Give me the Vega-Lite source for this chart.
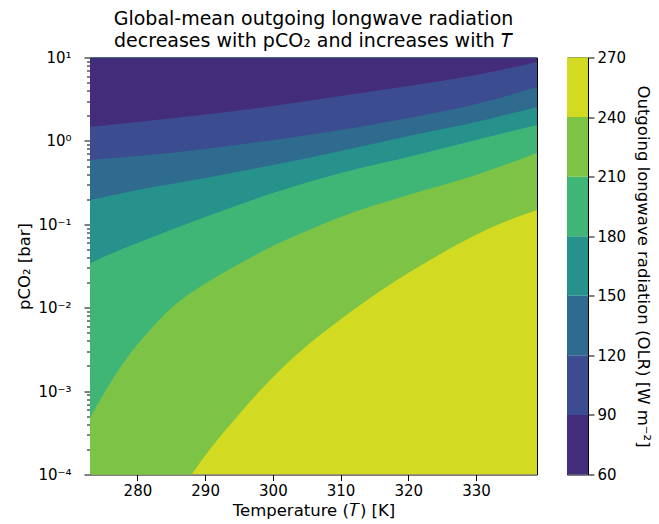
{
  "$schema": "https://vega.github.io/schema/vega-lite/v6.json",
  "background": "white",
  "padding": {"left": 16, "top": 8.5, "right": 5, "bottom": 5},
  "config": {
    "font": "DejaVu Sans",
    "view": {"stroke": "black", "strokeWidth": 1},
    "axis": {
      "labelFont": "DejaVu Sans", "titleFont": "DejaVu Sans",
      "labelFontSize": 15, "titleFontSize": 16.5, "titleFontWeight": "normal",
      "labelColor": "black", "titleColor": "black",
      "ticks": true,
      "domain": false, "grid": false, "labelFlush": false, "labelOverlap": false
    }
  },
  "datasets": {
    "contours": [
      {"band": "240–270", "T": 273, "p": 0.0001},
      {"band": "240–270", "T": 339, "p": 0.0001},
      {"band": "210–240", "T": 273, "p": 0.000001},
      {"band": "210–240", "T": 283, "p": 0.000025},
      {"band": "210–240", "T": 286, "p": 0.000057},
      {"band": "210–240", "T": 288, "p": 0.0001},
      {"band": "210–240", "T": 290.73, "p": 0.000202},
      {"band": "210–240", "T": 294.67, "p": 0.00049},
      {"band": "210–240", "T": 299.59, "p": 0.00136},
      {"band": "210–240", "T": 304.46, "p": 0.0032},
      {"band": "210–240", "T": 309.48, "p": 0.00675},
      {"band": "210–240", "T": 314.36, "p": 0.01306},
      {"band": "210–240", "T": 318.79, "p": 0.0227},
      {"band": "210–240", "T": 323.22, "p": 0.0373},
      {"band": "210–240", "T": 327.65, "p": 0.0597},
      {"band": "210–240", "T": 332.08, "p": 0.0904},
      {"band": "210–240", "T": 339, "p": 0.148},
      {"band": "180–210", "T": 273, "p": 0.000476},
      {"band": "180–210", "T": 276, "p": 0.00125},
      {"band": "180–210", "T": 279, "p": 0.00286},
      {"band": "180–210", "T": 282, "p": 0.00556},
      {"band": "180–210", "T": 285, "p": 0.00991},
      {"band": "180–210", "T": 288, "p": 0.0152},
      {"band": "180–210", "T": 291, "p": 0.0218},
      {"band": "180–210", "T": 295, "p": 0.0334},
      {"band": "180–210", "T": 300, "p": 0.055},
      {"band": "180–210", "T": 305, "p": 0.0832},
      {"band": "180–210", "T": 310, "p": 0.1225},
      {"band": "180–210", "T": 320, "p": 0.2245},
      {"band": "180–210", "T": 330, "p": 0.39},
      {"band": "180–210", "T": 339, "p": 0.716},
      {"band": "150–180", "T": 273, "p": 0.034},
      {"band": "150–180", "T": 276, "p": 0.0441},
      {"band": "150–180", "T": 280, "p": 0.0597},
      {"band": "150–180", "T": 290, "p": 0.1222},
      {"band": "150–180", "T": 300, "p": 0.2371},
      {"band": "150–180", "T": 310, "p": 0.412},
      {"band": "150–180", "T": 320, "p": 0.641},
      {"band": "150–180", "T": 330, "p": 1.026},
      {"band": "150–180", "T": 339, "p": 1.552},
      {"band": "120–150", "T": 273, "p": 0.1954},
      {"band": "120–150", "T": 280, "p": 0.2576},
      {"band": "120–150", "T": 290, "p": 0.3589},
      {"band": "120–150", "T": 300, "p": 0.514},
      {"band": "120–150", "T": 310, "p": 0.757},
      {"band": "120–150", "T": 320, "p": 1.146},
      {"band": "120–150", "T": 330, "p": 1.687},
      {"band": "120–150", "T": 339, "p": 2.547},
      {"band": "90–120", "T": 273, "p": 0.59},
      {"band": "90–120", "T": 280, "p": 0.659},
      {"band": "90–120", "T": 290, "p": 0.8},
      {"band": "90–120", "T": 300, "p": 1.026},
      {"band": "90–120", "T": 310, "p": 1.352},
      {"band": "90–120", "T": 320, "p": 1.884},
      {"band": "90–120", "T": 330, "p": 2.767},
      {"band": "90–120", "T": 339, "p": 4.426},
      {"band": "60–90", "T": 273, "p": 1.479},
      {"band": "60–90", "T": 280, "p": 1.687},
      {"band": "60–90", "T": 290, "p": 2.075},
      {"band": "60–90", "T": 300, "p": 2.618},
      {"band": "60–90", "T": 310, "p": 3.451},
      {"band": "60–90", "T": 320, "p": 4.55},
      {"band": "60–90", "T": 330, "p": 6.166},
      {"band": "60–90", "T": 339, "p": 8.831}
    ],
    "bands": [
      {"band": "60–90", "lo": 60, "hi": 90},
      {"band": "90–120", "lo": 90, "hi": 120},
      {"band": "120–150", "lo": 120, "hi": 150},
      {"band": "150–180", "lo": 150, "hi": 180},
      {"band": "180–210", "lo": 180, "hi": 210},
      {"band": "210–240", "lo": 210, "hi": 240},
      {"band": "240–270", "lo": 240, "hi": 270}
    ]
  },
  "spacing": 28,
  "hconcat": [
    {
      "title": {
        "text": ["Global-mean outgoing longwave radiation", "decreases with pCO₂ and increases with 𝑇"],
        "fontSize": 19, "fontWeight": "normal", "font": "DejaVu Sans", "lineHeight": 22,
        "offset": 0, "anchor": "middle", "color": "black"
      },
      "width": 447,
      "height": 417,
      "data": {"name": "contours"},
      "encoding": {
        "x": {
          "field": "T", "type": "quantitative",
          "scale": {"domain": [273, 339], "nice": false, "zero": false},
          "axis": {"title": "Temperature (𝑇) [K]", "values": [280, 290, 300, 310, 320, 330], "tickSize": 6, "tickColor": "black", "tickWidth": 1, "labelPadding": 3, "titlePadding": 4}
        },
        "y": {
          "field": "p", "type": "quantitative", "stack": null,
          "scale": {"type": "log", "domain": [0.0001, 10], "nice": false},
          "axis": {
            "title": "pCO₂ [bar]",
            "values": [0.0001, 0.0002, 0.0003, 0.0004, 0.0005, 0.0006, 0.0007, 0.0008, 0.0009,
                       0.001, 0.002, 0.003, 0.004, 0.005, 0.006, 0.007, 0.008, 0.009,
                       0.01, 0.02, 0.03, 0.04, 0.05, 0.06, 0.07, 0.08, 0.09,
                       0.1, 0.2, 0.3, 0.4, 0.5, 0.6, 0.7, 0.8, 0.9,
                       1, 2, 3, 4, 5, 6, 7, 8, 9, 10],
            "labelExpr": "abs(log(datum.value)/LN10 - round(log(datum.value)/LN10)) > 0.01 ? '' : (round(log(datum.value)/LN10) == 1 ? '10¹' : round(log(datum.value)/LN10) == 0 ? '10⁰' : round(log(datum.value)/LN10) == -1 ? '10⁻¹' : round(log(datum.value)/LN10) == -2 ? '10⁻²' : round(log(datum.value)/LN10) == -3 ? '10⁻³' : '10⁻⁴')",
            "tickColor": "black",
            "tickWidth": 1,
            "tickSize": {"condition": {"test": "abs(log(datum.value)/LN10 - round(log(datum.value)/LN10)) < 0.01", "value": 6}, "value": 3.5},
            "labelPadding": 13,
            "titlePadding": 5
          }
        },
        "y2": {"datum": 10},
        "color": {
          "field": "band", "type": "nominal", "legend": null,
          "scale": {
            "domain": ["60–90", "90–120", "120–150", "150–180", "180–210", "210–240", "240–270"],
            "range": ["#432c7a", "#3b4c91", "#2e6b8e", "#27918b", "#40b676", "#7dc346", "#d2da22"]
          }
        }
      },
      "layer": [
        {"transform": [{"filter": "datum.band === '240–270'"}], "mark": {"type": "area", "interpolate": "monotone", "clip": true}},
        {"transform": [{"filter": "datum.band === '210–240'"}], "mark": {"type": "area", "interpolate": "monotone", "clip": true}},
        {"transform": [{"filter": "datum.band === '180–210'"}], "mark": {"type": "area", "interpolate": "monotone", "clip": true}},
        {"transform": [{"filter": "datum.band === '150–180'"}], "mark": {"type": "area", "interpolate": "monotone", "clip": true}},
        {"transform": [{"filter": "datum.band === '120–150'"}], "mark": {"type": "area", "interpolate": "monotone", "clip": true}},
        {"transform": [{"filter": "datum.band === '90–120'"}], "mark": {"type": "area", "interpolate": "monotone", "clip": true}},
        {"transform": [{"filter": "datum.band === '60–90'"}], "mark": {"type": "area", "interpolate": "monotone", "clip": true}}
      ]
    },
    {
      "width": 21,
      "height": 417,
      "data": {"name": "bands"},
      "mark": {"type": "rect"},
      "encoding": {
        "y": {
          "field": "lo", "type": "quantitative",
          "scale": {"domain": [60, 270], "nice": false, "zero": false},
          "axis": {
            "orient": "right", "values": [60, 90, 120, 150, 180, 210, 240, 270],
            "title": "Outgoing longwave radiation (OLR) [W m⁻²]",
            "tickColor": "black", "tickWidth": 1,
            "tickSize": 6, "labelPadding": 3, "titlePadding": 9, "titleAngle": 90
          }
        },
        "y2": {"field": "hi"},
        "color": {
          "field": "band", "type": "nominal", "legend": null,
          "scale": {
            "domain": ["60–90", "90–120", "120–150", "150–180", "180–210", "210–240", "240–270"],
            "range": ["#432c7a", "#3b4c91", "#2e6b8e", "#27918b", "#40b676", "#7dc346", "#d2da22"]
          }
        }
      }
    }
  ]
}
